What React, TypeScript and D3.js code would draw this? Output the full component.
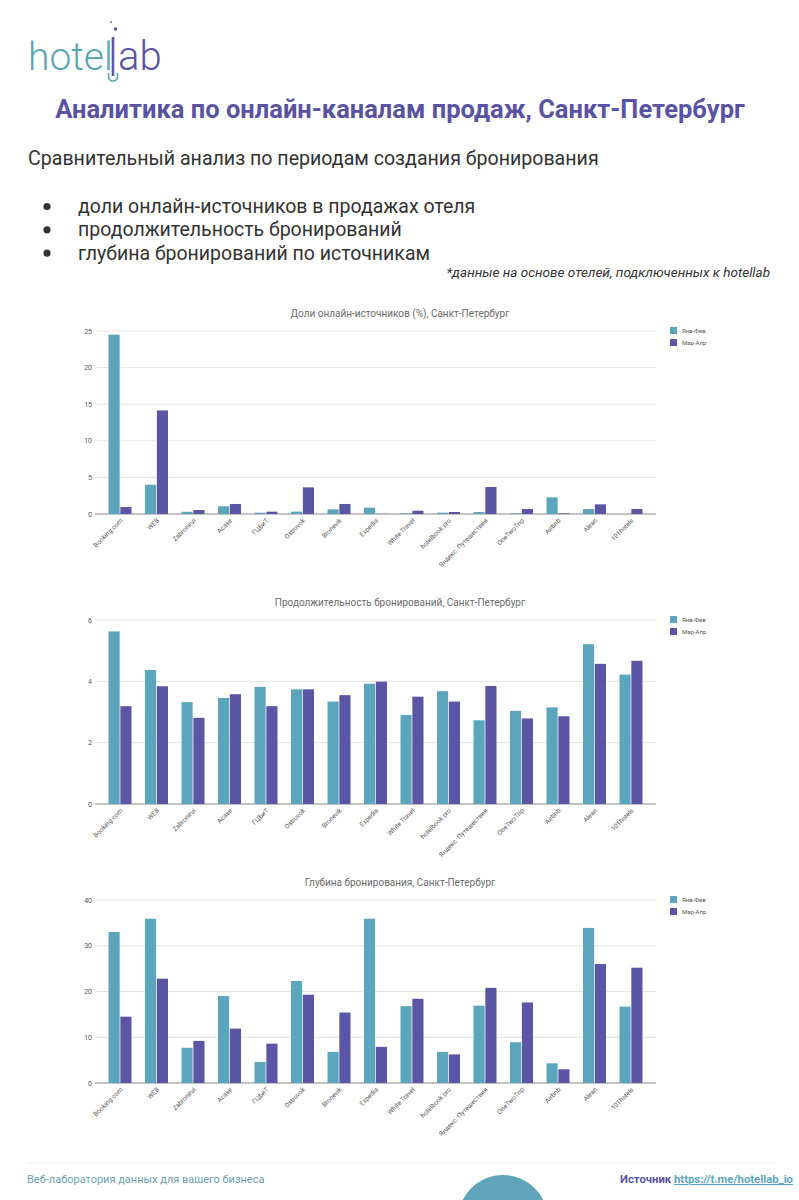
import React from "react";
import * as d3 from "d3";

const categories = [
  "Booking.com", "WEB", "Zabronirui", "Acase", "ГЦБиТ", "Ostrovok", "Bronevik",
  "Expedia", "White Travel", "hotelbook.pro", "Яндекс. Путешествия", "OneTwoTrip",
  "Airbnb", "Alean", "101hotels",
];
const seriesNames = ["Янв-Фев", "Мар-Апр"];

const shareJanFeb = [24.5, 4.0, 0.3, 1.05, 0.18, 0.32, 0.64, 0.87, 0.09, 0.18, 0.27, 0.09, 2.28, 0.68, 0.0];
const shareMarApr = [0.96, 14.15, 0.55, 1.37, 0.32, 3.64, 1.37, 0.02, 0.45, 0.27, 3.69, 0.68, 0.09, 1.32, 0.68];

const lengthJanFeb = [5.63, 4.37, 3.32, 3.46, 3.82, 3.74, 3.34, 3.92, 2.9, 3.68, 2.73, 3.04, 3.15, 5.21, 4.22];
const lengthMarApr = [3.19, 3.84, 2.81, 3.58, 3.19, 3.74, 3.55, 3.99, 3.5, 3.34, 3.85, 2.79, 2.86, 4.57, 4.67];

const depthJanFeb = [33.0, 35.9, 7.7, 19.0, 4.6, 22.3, 6.8, 35.9, 16.8, 6.8, 16.9, 8.9, 4.3, 33.9, 16.7];
const depthMarApr = [14.5, 22.8, 9.2, 11.9, 8.6, 19.3, 15.4, 7.9, 18.4, 6.25, 20.8, 17.6, 3.0, 26.0, 25.2];

const shareTicks = [0, 5, 10, 15, 20, 25];
const lengthTicks = [0, 2, 4, 6];
const depthTicks = [0, 10, 20, 30, 40];

const bullets = [
  "доли онлайн-источников в продажах отеля",
  "продолжительность бронирований",
  "глубина бронирований по источникам",
];

const COLORS = ["#5ba6bc", "#5b55a6"];
const TITLE_COLOR = "#5a52a3";
const FONT = "Roboto, 'Noto Sans', sans-serif";

type ChartProps = {
  title: string;
  a: number[];
  b: number[];
  ticks: number[];
  yTop: number;
  yBase: number;
  titleY: number;
};

function BarChart({ title, a, b, ticks, yTop, yBase, titleY }: ChartProps) {
  const x = d3.scaleBand<string>().domain(categories).range([95, 656]).padding(0.37);
  const inner = d3.scaleBand<number>().domain([0, 1]).range([0, x.bandwidth()]).paddingInner(0.06);
  const y = d3.scaleLinear().domain([0, ticks[ticks.length - 1]]).range([yBase, yTop]);
  const series = [a, b];
  return (
    <g fontFamily={FONT}>
      <text x={400} y={titleY} textAnchor="middle" fontSize={10} fill="#6b6b6b">
        {title}
      </text>
      {ticks.map((t) => (
        <g key={t}>
          <line x1={95} x2={656} y1={y(t)} y2={y(t)} stroke={t === 0 ? "#8a8a8a" : "#e4e4e4"} strokeWidth={t === 0 ? 1.2 : 1} />
          <text x={92} y={y(t) + 2.5} textAnchor="end" fontSize={7} fill="#555">
            {t}
          </text>
        </g>
      ))}
      {series.map((vals, si) =>
        vals.map((v, i) => {
          const x0 = (x(categories[i]) as number) + (inner(si) as number);
          return (
            <rect
              key={si + "-" + i}
              x={x0}
              y={y(v)}
              width={inner.bandwidth()}
              height={Math.max(0, yBase - y(v))}
              fill={COLORS[si]}
            />
          );
        })
      )}
      {categories.map((c) => {
        const cx = (x(c) as number) + x.bandwidth() / 2 + 3;
        const cy = yBase + 7;
        return (
          <text
            key={c}
            transform={`translate(${cx},${cy}) rotate(-45)`}
            textAnchor="end"
            fontSize={6.5}
            fill="#555"
          >
            {c}
          </text>
        );
      })}
      {seriesNames.map((s, i) => (
        <g key={s}>
          <rect x={670} y={yTop - 4 + i * 12} width={7} height={7} fill={COLORS[i]} />
          <text x={682} y={yTop + 2 + i * 12} fontSize={6} fill="#555">
            {s}
          </text>
        </g>
      ))}
    </g>
  );
}

export default function App() {
  return (
    <div style={{ position: "absolute", left: 0, top: 0 }}>
      <svg width={799} height={1200} style={{ display: "block", background: "#fff" }}>
        {/* Logo */}
        <g fontFamily="Roboto, sans-serif" fontWeight={300}>
          <text x={28} y={70} fontSize={39} fill="#5ba6b4">hotel</text>
          <line x1={113} x2={113} y1={37} y2={76} stroke="#5a58a8" strokeWidth={2.6} />
          <path d="M108.5,73 L108.5,76 Q108.5,81 113,81 Q117.5,81 117.5,76 L117.5,73" fill="none" stroke="#5ba6b4" strokeWidth={1.6} />
          <circle cx={115.5} cy={29} r={1.8} fill="#5a58a8" />
          <circle cx={111} cy={22} r={0.9} fill="#5a58a8" />
          <text x={118} y={70} fontSize={40} fill="#5a52a3">ab</text>
        </g>
        {/* Header */}
        <text x={400} y={118} textAnchor="middle" fontFamily={FONT} fontWeight={700} fontSize={25.5} fill={TITLE_COLOR}>
          Аналитика по онлайн-каналам продаж, Санкт-Петербург
        </text>
        <text x={28} y={165} fontFamily={FONT} fontSize={19.6} fill="#333">
          Сравнительный анализ по периодам создания бронирования
        </text>
        {bullets.map((t, i) => (
          <g key={t} fontFamily={FONT} fill="#333">
            <circle cx={47} cy={206.5 + i * 23.3} r={3.6} fill="#333" />
            <text x={78} y={213 + i * 23.3} fontSize={19.5}>{t}</text>
          </g>
        ))}
        <text x={770} y={277} textAnchor="end" fontFamily={FONT} fontStyle="italic" fontSize={13.5} fill="#333">
          *данные на основе отелей, подключенных к hotellab
        </text>

        <BarChart
          title="Доли онлайн-источников (%), Санкт-Петербург"
          a={shareJanFeb}
          b={shareMarApr}
          ticks={shareTicks}
          yTop={331}
          yBase={514}
          titleY={317}
        />
        <BarChart
          title="Продолжительность бронирований, Санкт-Петербург"
          a={lengthJanFeb}
          b={lengthMarApr}
          ticks={lengthTicks}
          yTop={620}
          yBase={804}
          titleY={606}
        />
        <BarChart
          title="Глубина бронирования, Санкт-Петербург"
          a={depthJanFeb}
          b={depthMarApr}
          ticks={depthTicks}
          yTop={900}
          yBase={1083}
          titleY={886}
        />

        {/* Footer */}
        <line x1={27} x2={775} y1={1163} y2={1163} stroke="#f0f0f0" strokeWidth={1} />
        <circle cx={503} cy={1220} r={45} fill="#5fa4b8" />
        <text x={27} y={1183} fontFamily={FONT} fontSize={11} fill="#6d9fb0">
          Веб-лаборатория данных для вашего бизнеса
        </text>
        <text x={793} y={1183} textAnchor="end" fontFamily={FONT} fontSize={11.3} fontWeight={700}>
          <tspan fill="#5a52a3">Источник </tspan>
          <tspan fill="#5ba6bc" textDecoration="underline">https://t.me/hotellab_io</tspan>
        </text>
      </svg>
    </div>
  );
}
